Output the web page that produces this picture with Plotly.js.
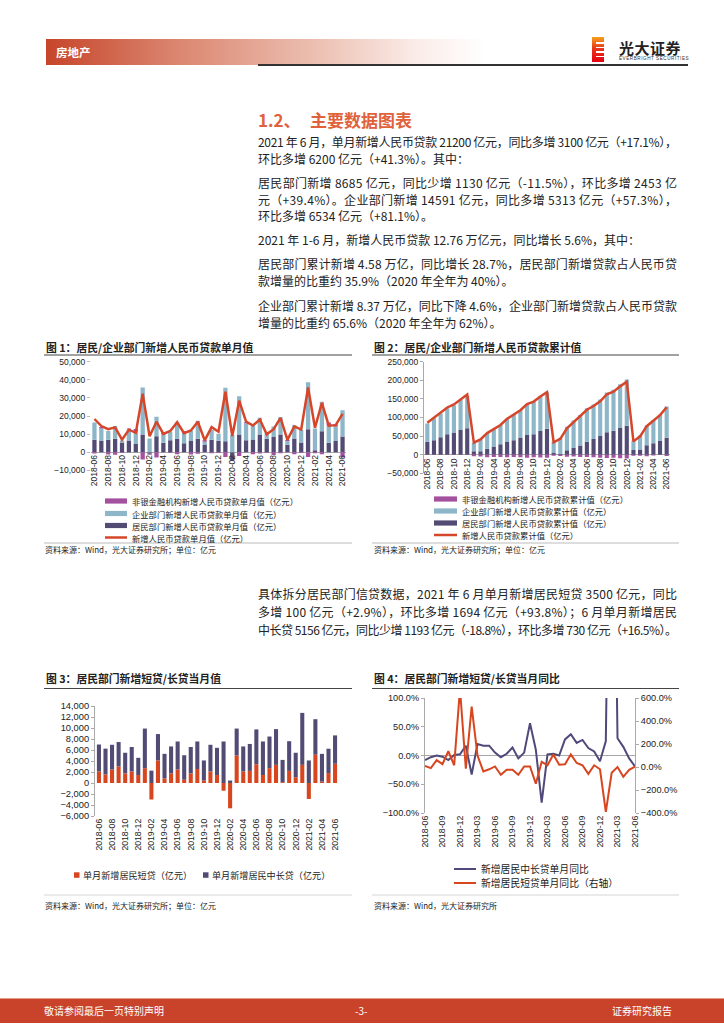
<!DOCTYPE html>
<html><head><meta charset="utf-8">
<script src="https://cdn.plot.ly/plotly-3.0.1.min.js"></script>
<style>
html,body{margin:0;padding:0}
body{width:724px;height:1024px;position:relative;background:#fff;overflow:hidden;font-family:"Noto Sans CJK SC","Noto Sans",sans-serif;color:#222}
#plot{position:absolute;left:0;top:0;width:724px;height:1024px}
.band{position:absolute;left:46px;top:39px;width:440px;height:26px;background:linear-gradient(to right,#C6452A 0%,#D9796140 0%,#C6452A 0%,#DB8670 30%,#EBBDAF 60%,#FBEDE9 85%,#fff 100%)}
.bandtxt{position:absolute;left:56px;top:39px;height:26px;line-height:26px;color:#fff;font-weight:bold;font-size:11.5px}
.hline{position:absolute;left:258px;top:64px;width:430px;height:1.5px;background:#333}
.logo{position:absolute;left:592px;top:37px;width:12px;height:25px;background:linear-gradient(#F6A01A,#E8381A 45%,#E50012)}
.logo i{position:absolute;left:4px;width:8px;height:1.6px;background:#fff}
.lt1{position:absolute;left:619px;top:38px;font-size:15px;font-weight:bold;color:#222;line-height:20px;letter-spacing:0.5px}
.lt2{position:absolute;left:619px;top:56px;font-size:4.6px;color:#333;line-height:6px;letter-spacing:0.55px;font-family:"Liberation Sans",sans-serif}
.h2{position:absolute;top:110px;font-size:17px;font-weight:bold;color:#E0623C;line-height:20px}
.ln{position:absolute;left:258px;height:18px;line-height:18px;font-size:12px;white-space:nowrap;width:max-content;color:#222}
.foot{position:absolute;left:0;top:998px;width:724px;height:24px;background:#C8432A;border-top:1px solid #E59A86}
.ft{position:absolute;top:1000px;line-height:22px;color:#fff;font-size:10px}
</style></head>
<body>
<div class="band"></div><div class="bandtxt">房地产</div>
<div class="hline"></div>
<div class="logo"><i style="top:5px"></i><i style="top:9.5px"></i><i style="top:14px"></i><i style="top:18.5px"></i></div>
<div class="lt1">光大证券</div>
<div class="lt2">EVERBRIGHT SECURITIES</div>
<div class="h2" style="left:258px">1.2、</div><div class="h2" style="left:310px">主要数据图表</div>

<div class="ln" data-w="419" style="top:133px">2021 年 6 月，单月新增人民币贷款 21200 亿元，同比多增 3100 亿元（+17.1%），</div>
<div class="ln" style="top:150px">环比多增 6200 亿元（+41.3%）。其中：</div>
<div class="ln" data-w="419" style="top:174px">居民部门新增 8685 亿元，同比少增 1130 亿元（-11.5%），环比多增 2453 亿</div>
<div class="ln" data-w="419" style="top:191px">元（+39.4%）。企业部门新增 14591 亿元，同比多增 5313 亿元（+57.3%），</div>
<div class="ln" style="top:207px">环比多增 6534 亿元（+81.1%）。</div>
<div class="ln" style="top:231px">2021 年 1-6 月，新增人民币贷款 12.76 万亿元，同比增长 5.6%，其中：</div>
<div class="ln" data-w="419" style="top:255px">居民部门累计新增 4.58 万亿，同比增长 28.7%，居民部门新增贷款占人民币贷</div>
<div class="ln" style="top:272px">款增量的比重约 35.9%（2020 年全年为 40%）。</div>
<div class="ln" data-w="419" style="top:297px">企业部门累计新增 8.37 万亿，同比下降 4.6%，企业部门新增贷款占人民币贷款</div>
<div class="ln" style="top:314px">增量的比重约 65.6%（2020 年全年为 62%）。</div>

<div class="ln" data-w="419" style="top:585px">具体拆分居民部门信贷数据，2021 年 6 月单月新增居民短贷 3500 亿元，同比</div>
<div class="ln" data-w="419" style="top:603px">多增 100 亿元（+2.9%），环比多增 1694 亿元（+93.8%）；6 月单月新增居民</div>
<div class="ln" data-w="419" style="top:621px">中长贷 5156 亿元，同比少增 1193 亿元（-18.8%），环比多增 730 亿元（+16.5%）。</div>

<div class="foot"></div>
<div class="ft" style="left:44px">敬请参阅最后一页特别声明</div>
<div class="ft" style="left:355px">-3-</div>
<div class="ft" style="left:612px">证券研究报告</div>

<div id="plot"></div>
<script>
// ---------------- data ----------------
const months = ['2018-06','2018-07','2018-08','2018-09','2018-10','2018-11','2018-12',
 '2019-01','2019-02','2019-03','2019-04','2019-05','2019-06','2019-07','2019-08','2019-09','2019-10','2019-11','2019-12',
 '2020-01','2020-02','2020-03','2020-04','2020-05','2020-06','2020-07','2020-08','2020-09','2020-10','2020-11','2020-12',
 '2021-01','2021-02','2021-03','2021-04','2021-05','2021-06'];

// Fig 1: monthly new RMB loans (亿元)
const household1 = [7000,6250,6950,7450,5500,6550,4580,9900,-750,8900,5300,6650,7550,5050,6550,7550,4100,6950,6400,6150,-4150,9900,6650,7100,9815,7550,8450,9800,4200,7600,5500,12750,1200,11600,5300,6232,8685];
const corporate1 = [9500,6950,4850,7050,1000,6150,6800,25900,7700,10800,4600,4750,8950,5450,5350,9950,1800,5350,3900,29550,9560,21100,9350,7600,9278,3250,5850,9500,2050,7400,6800,25850,12000,16300,9400,8057,14591];
const nonbank1 = [-600,800,-1200,-1300,-400,500,1500,-4000,-500,-2800,1200,-300,-1000,1200,-1200,-800,800,-500,-300,-2500,-300,-2000,600,-1000,-600,-300,-1500,-500,600,-1000,-300,-2500,-500,-1000,1800,1200,-2800];
const total1 = [18400,14500,12800,13800,6970,12500,10800,32300,8858,16900,10200,11800,16600,10600,12100,16900,6613,13900,11400,33400,9057,28500,17000,14800,18100,9927,12800,19000,6898,14300,12600,35800,13600,27300,14700,15000,21200];

// Fig 2: cumulative within year (亿元)
const household2 = [34600,39000,47000,55000,59400,66500,71000,9500,9200,16000,22000,28400,35500,39000,46000,53000,55000,63800,70000,6000,1900,11700,18000,25000,34800,42000,50500,60300,64500,72100,77600,12700,13900,25500,30800,37000,45800];
const corporate2 = [49400,59000,64000,70000,73600,80500,86700,22800,32000,42000,46200,51600,61200,68300,73400,83200,87800,92900,98100,29400,43600,63300,74000,81800,90100,92800,98100,107200,109900,117600,124700,25100,37500,53200,61600,70400,83700];
const nonbank2 = [-500,-500,-800,-1000,-1000,-800,-500,-4000,-5000,-7000,-6000,-6500,-7000,-6000,-7000,-8000,-7000,-7500,-8000,-3000,-3500,-5500,-5000,-6000,-6500,-7000,-8500,-9000,-8500,-9500,-10000,-2500,-3000,-4000,-2200,-1000,-3800];
const total2 = [86000,100000,113000,127000,135000,149000,161700,32300,41200,58000,68200,80000,96700,107300,119400,136200,142800,156700,168100,33400,42500,71000,88000,102800,120900,130800,143600,162500,169400,183700,196300,35800,49400,76700,91400,106400,127600];

// Fig 3: household short / medium-long loans (亿元)
const shortLoan = [2100,1550,2450,3000,1750,2100,1450,2700,-3000,4100,850,1750,2450,600,1750,2550,450,2100,1450,-1400,-4600,5000,2100,2200,3400,1450,2700,3300,150,2200,1050,3300,-2900,5150,250,1806,3500];
const longLoan = [4900,4700,4500,4450,3750,4450,3130,7200,2250,4800,4450,4900,5100,4450,4800,5000,3650,4850,4950,7550,450,4900,4550,4900,6349,6100,5750,6500,4050,5400,4450,9450,4100,6450,5050,4426,5156];

// Fig 4: YoY (%)
const longYoY = [-8,-3,0,-2,-8,1,2,17,-33,20,17,17,5,-3,3,14,-5,5,56,10,-82,2,3,0,28,37,22,27,13,7,-10,25,800,30,15,-5,-19];
const shortYoY = [10,-10,60,25,137,15,680,-15,525,100,-38,-20,5,-67,-23,-23,-67,5,5,-145,45,15,108,20,23,110,35,15,-60,15,-20,-390,-50,0,-85,-25,3];

const ticks2 = months.filter((m,i)=>i%2===0);
const ticks3 = months.filter((m,i)=>i%3===0);

const legend1 = ['非银金融机构新增人民币贷款单月值（亿元）','企业部门新增人民币贷款单月值（亿元）','居民部门新增人民币贷款单月值（亿元）','新增人民币贷款单月值（亿元）'];
const legend2 = ['非银金融机构新增人民币贷款累计值（亿元）','企业部门新增人民币贷款累计值（亿元）','居民部门新增人民币贷款累计值（亿元）','新增人民币贷款累计值（亿元）'];
const legend3 = ['单月新增居民短贷（亿元）','单月新增居民中长贷（亿元）'];
const legend4 = ['新增居民中长贷单月同比','新增居民短贷单月同比（右轴）'];

// ---------------- styles ----------------
const C_DARK='#524C75', C_LIGHT='#8DB6C9', C_MAG='#A3519F', C_RED='#D5462A', C_RED3='#D8461F';
const W=724, H=1024;
const X=p=>p/W, Y=p=>1-p/H;
const NUM='"Liberation Sans", Arial, "Noto Sans CJK SC", sans-serif';
const CJK='"Noto Sans CJK SC", "Noto Sans", sans-serif';

const bar=(y,xa,ya,c)=>({type:'bar',x:months,y:y,xaxis:xa,yaxis:ya,marker:{color:c,line:{width:0}},width:0.62,hoverinfo:'skip'});
const line=(y,xa,ya,c,w)=>({type:'scatter',mode:'lines',x:months,y:y,xaxis:xa,yaxis:ya,line:{color:c,width:w},hoverinfo:'skip'});

const data=[
 bar(household1,'x','y',C_DARK), bar(corporate1,'x','y',C_LIGHT), bar(nonbank1,'x','y',C_MAG), line(total1,'x','y',C_RED,2.5),
 bar(household2,'x2','y2',C_DARK), bar(corporate2,'x2','y2',C_LIGHT), bar(nonbank2,'x2','y2',C_MAG), line(total2,'x2','y2',C_RED,2.5),
 bar(shortLoan,'x3','y3',C_RED3), bar(longLoan,'x3','y3',C_DARK),
 line(longYoY,'x4','y4','#4F4A7A',2), line(shortYoY,'x4','y5',C_RED3,2)
];

const tf=s=>({family:NUM,size:s,color:'#222'});
const catX=(d0,d1,extra)=>Object.assign({type:'category',categoryorder:'array',categoryarray:months,domain:[X(d0),X(d1)],
  tickmode:'array',tickvals:ticks2,ticktext:ticks2,tickangle:-90,tickfont:tf(8.5),ticks:'',showgrid:false,zeroline:false,showline:false,fixedrange:true},extra);

const layout={
 width:W,height:H,margin:{l:0,r:0,t:0,b:0},paper_bgcolor:'rgba(0,0,0,0)',plot_bgcolor:'rgba(0,0,0,0)',
 showlegend:false,barmode:'relative',
 xaxis: catX(91,346,{anchor:'free',position:Y(452.3),range:[-0.5,36.5]}),
 yaxis: {domain:[Y(470.5),Y(361.7)],range:[-10000,50000],dtick:10000,tickformat:',',tickfont:tf(8.5),ticks:'outside',ticklen:3,tickcolor:'#bbb',showline:false,showgrid:false,zeroline:true,zerolinecolor:'#a8a8a8',zerolinewidth:1,anchor:'x'},
 xaxis2: catX(424,670,{anchor:'free',position:Y(455.7),range:[-0.5,36.5]}),
 yaxis2: {domain:[Y(473.3),Y(361.7)],range:[-50000,250000],dtick:50000,tickformat:',',tickfont:tf(8.5),ticks:'outside',ticklen:3,tickcolor:'#aaa',showline:true,linecolor:'#aaa',linewidth:1,showgrid:false,zeroline:true,zerolinecolor:'#a8a8a8',zerolinewidth:1,anchor:'x2'},
 xaxis3: catX(95,339,{anchor:'y3',range:[-0.6,36.6],tickfont:tf(8.7)}),
 yaxis3: {domain:[Y(816),Y(706)],range:[-6000,14000],dtick:2000,tickformat:',',tickfont:tf(9.3),ticks:'outside',ticklen:3,tickcolor:'#aaa',showline:true,linecolor:'#aaa',linewidth:1,showgrid:false,zeroline:false,anchor:'x3'},
 xaxis4: {type:'category',categoryorder:'array',categoryarray:months,domain:[X(425),X(635)],range:[0,36],anchor:'y4',
   tickmode:'array',tickvals:ticks3,ticktext:ticks3,tickangle:-90,tickfont:tf(8.7),ticks:'',showgrid:false,zeroline:false,showline:false},
 yaxis4: {domain:[Y(813),Y(698)],range:[-100,100],dtick:50,tickformat:'.1f',ticksuffix:'%',tickfont:tf(9.2),ticks:'outside',ticklen:3,tickcolor:'#aaa',showline:true,linecolor:'#aaa',linewidth:1,showgrid:false,zeroline:true,zerolinecolor:'#a8a8a8',zerolinewidth:1,anchor:'x4'},
 yaxis5: {domain:[Y(813),Y(698)],range:[-400,600],dtick:200,tickformat:'.1f',ticksuffix:'%',tickfont:tf(9.2),ticks:'outside',ticklen:3,tickcolor:'#aaa',showline:true,linecolor:'#aaa',linewidth:1,showgrid:false,zeroline:false,overlaying:'y4',side:'right',anchor:'x4'},
 shapes:[],annotations:[]
};

const S=layout.shapes, A=layout.annotations;
const hl=(x0,x1,y,c,w)=>S.push({type:'line',xref:'paper',yref:'paper',x0:X(x0),x1:X(x1),y0:Y(y),y1:Y(y),line:{color:c,width:w}});
const rc=(x0,x1,y0,y1,c)=>S.push({type:'rect',xref:'paper',yref:'paper',x0:X(x0),x1:X(x1),y0:Y(y1),y1:Y(y0),fillcolor:c,line:{width:0}});
const tx=(x,y,t,size,opts)=>A.push(Object.assign({xref:'paper',yref:'paper',x:X(x),y:Y(y),text:t,showarrow:false,xanchor:'left',yanchor:'middle',font:{family:CJK,size:size,color:'#222'}},opts||{}));

// titles
tx(44,347,'<b>图 1：居民/企业部门新增人民币贷款单月值</b>',10.8);
tx(372,347,'<b>图 2：居民/企业部门新增人民币贷款累计值</b>',10.8);
tx(44,678,'<b>图 3：居民部门新增短贷/长贷当月值</b>',10.8);
tx(372,678,'<b>图 4：居民部门新增短贷/长贷当月同比</b>',10.8);
hl(44,352,355,'#444',1); hl(372,679,355,'#444',1);
hl(44,352,688.5,'#444',1); hl(372,679,688.5,'#444',1);
// sources
hl(44,352,543,'#aaa',0.8); hl(372,679,543,'#aaa',0.8);
hl(44,352,895,'#ccc',0.8); hl(372,679,895,'#ccc',0.8);
tx(43,549,'资料来源：Wind，光大证券研究所；单位：亿元',8);
tx(372,549,'资料来源：Wind，光大证券研究所；单位：亿元',8);
tx(43,905,'资料来源：Wind，光大证券研究所；单位：亿元',8);
tx(372,905,'资料来源：Wind，光大证券研究所',8);

// legend fig1
const lg1y=[501,513.5,525.5,537.5], lgc=[C_MAG,C_LIGHT,C_DARK];
lg1y.forEach((y,i)=>{ if(i<3) rc(105,127,y-2.6,y+2.6,lgc[i]); else hl(105,127,y,C_RED,2.5); tx(130,y,legend1[i],8.3); });
// legend fig2
const lg2y=[499,511,523,535];
lg2y.forEach((y,i)=>{ if(i<3) rc(434,457,y-2.6,y+2.6,lgc[i]); else hl(434,457,y,C_RED,2.5); tx(460,y,legend2[i],8.3); });
// legend fig3
rc(74,79.5,872.3,877.8,C_RED3); tx(81,875,legend3[0],9.1);
rc(203,208.5,872.3,877.8,C_DARK); tx(210,875,legend3[1],9.1);
// legend fig4
hl(454,476,869,'#4F4A7A',2); tx(479,869,legend4[0],9.8);
hl(454,476,883,C_RED3,2); tx(479,883,legend4[1],9.8);

Plotly.newPlot('plot',data,layout,{staticPlot:true,displayModeBar:false});

// justify full lines of body text
function justify(){
  document.querySelectorAll('.ln[data-w]').forEach(el=>{
    el.style.letterSpacing='0px';
    const w=el.getBoundingClientRect().width;
    const n=el.textContent.length;
    const t=+el.dataset.w;
    el.style.letterSpacing=((t-w)/(n-1))+'px';
  });
}
justify();
if(document.fonts&&document.fonts.ready) document.fonts.ready.then(justify);
</script>
</body></html>
